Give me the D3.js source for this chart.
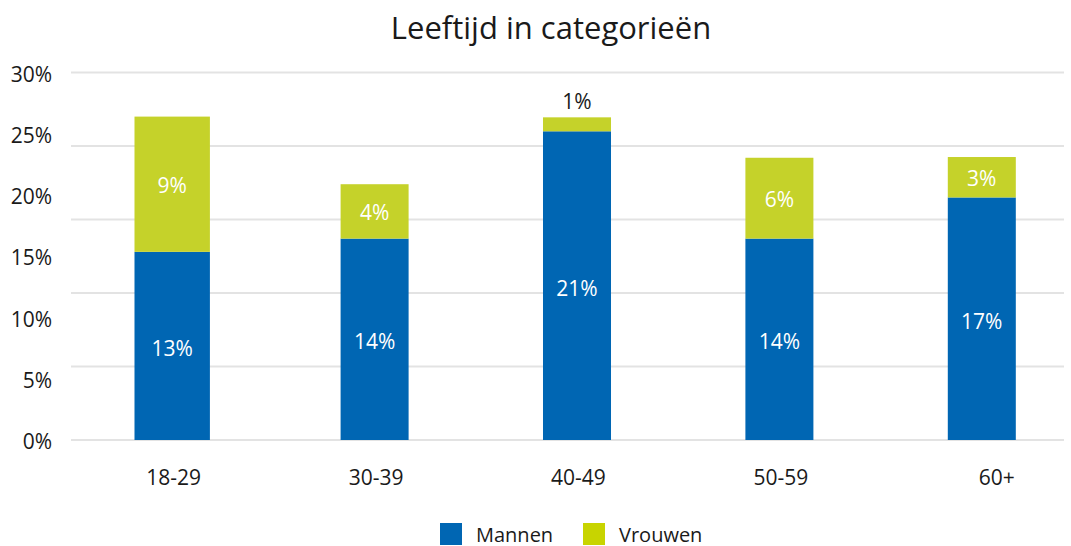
<!DOCTYPE html>
<html>
<head>
<meta charset="utf-8">
<script src="https://cdn.jsdelivr.net/npm/d3@7"></script>
<style>
  body { margin: 0; background: #fff; }
  svg { display: block; font-family: "Open Sans", sans-serif; }
</style>
</head>
<body>
<svg id="chart" width="1071" height="546"></svg>
<script>
const categories = ['18-29', '30-39', '40-49', '50-59', '60+'];
const mannen = [12.8, 13.7, 21.0, 13.7, 16.5];
const vrouwen = [9.2, 3.7, 0.95, 5.5, 2.75];
const mannenLabels = ['13%', '14%', '21%', '14%', '17%'];
const vrouwenLabels = ['9%', '4%', '1%', '6%', '3%'];
const tickLabels = ['0%', '5%', '10%', '15%', '20%', '25%', '30%'];
const seriesNames = ['Mannen', 'Vrouwen'];

const BLUE = '#0066b3';
const GREEN = '#c5d22a';
const TEXT = '#1a1a1a';

const svg = d3.select('#chart');

const x = d3.scaleBand()
  .domain(categories)
  .range([71, 1083])
  .paddingInner(0.664)
  .paddingOuter(0.332);

const y = d3.scaleLinear()
  .domain([0, 25])
  .range([440, 72.5]);

// tick labels are spread evenly over the plot height, independent of the gridlines
const yLabel = d3.scalePoint()
  .domain(tickLabels)
  .range([440, 72.5]);

// gridlines
svg.append('g')
  .selectAll('line')
  .data(y.ticks(5))
  .join('line')
  .attr('x1', 71)
  .attr('x2', 1064)
  .attr('y1', d => y(d))
  .attr('y2', d => y(d))
  .attr('stroke', '#e3e3e3')
  .attr('stroke-width', 2);

// y labels
svg.append('g')
  .selectAll('text')
  .data(tickLabels)
  .join('text')
  .attr('x', 52)
  .attr('y', d => yLabel(d) + 1)
  .attr('text-anchor', 'end')
  .attr('dominant-baseline', 'central')
  .attr('fill', TEXT)
  .style('font-size', '21px')
  .text(d => d);

// title
svg.append('text')
  .attr('x', 551)
  .attr('y', 39)
  .attr('text-anchor', 'middle')
  .attr('fill', TEXT)
  .style('font-size', '31px')
  .text('Leeftijd in categorieën');

const rows = categories.map((c, i) => ({
  cat: c,
  m: mannen[i],
  v: vrouwen[i],
  ml: mannenLabels[i],
  vl: vrouwenLabels[i],
}));

// first bar is drawn a bit wider in the original
const widen = (i) => (i === 0 ? 3.7 : 0);

const bars = svg.append('g')
  .selectAll('g')
  .data(rows)
  .join('g');

bars.append('rect')
  .attr('x', (d, i) => x(d.cat) - widen(i))
  .attr('width', (d, i) => x.bandwidth() + 2 * widen(i))
  .attr('y', d => y(d.m))
  .attr('height', d => y(0) - y(d.m))
  .attr('fill', BLUE);

bars.append('rect')
  .attr('x', (d, i) => x(d.cat) - widen(i))
  .attr('width', (d, i) => x.bandwidth() + 2 * widen(i))
  .attr('y', d => y(d.m + d.v))
  .attr('height', d => y(d.m) - y(d.m + d.v))
  .attr('fill', GREEN);

bars.append('text')
  .attr('x', d => x(d.cat) + x.bandwidth() / 2)
  .attr('y', d => (y(0) + y(d.m)) / 2 + 2)
  .attr('text-anchor', 'middle')
  .attr('dominant-baseline', 'central')
  .attr('fill', '#fff')
  .style('font-size', '21px')
  .text(d => d.ml);

// small segments get their label above the bar
bars.append('text')
  .attr('x', d => x(d.cat) + x.bandwidth() / 2)
  .attr('y', d => {
    const h = y(d.m) - y(d.m + d.v);
    return h < 25 ? y(d.m + d.v) - 16 : (y(d.m) + y(d.m + d.v)) / 2 + 1;
  })
  .attr('text-anchor', 'middle')
  .attr('dominant-baseline', 'central')
  .attr('fill', d => (y(d.m) - y(d.m + d.v) < 25 ? TEXT : '#fff'))
  .style('font-size', '21px')
  .text(d => d.vl);

// x labels (the last one sits a bit to the right in the original)
svg.append('g')
  .selectAll('text')
  .data(categories)
  .join('text')
  .attr('x', (d, i) => x(d) + x.bandwidth() / 2 + (i === categories.length - 1 ? 15 : 1.5))
  .attr('y', 477)
  .attr('text-anchor', 'middle')
  .attr('dominant-baseline', 'central')
  .attr('fill', TEXT)
  .style('font-size', '21px')
  .text(d => d);

// legend
const legendX = [440, 583];
const legend = svg.append('g')
  .selectAll('g')
  .data(seriesNames)
  .join('g')
  .attr('transform', (d, i) => `translate(${legendX[i]}, 523)`);

legend.append('rect')
  .attr('width', 22)
  .attr('height', 22)
  .attr('fill', (d, i) => (i === 0 ? BLUE : '#c8d400'));

legend.append('text')
  .attr('x', 36)
  .attr('y', 11)
  .attr('dominant-baseline', 'central')
  .attr('fill', TEXT)
  .style('font-size', '20px')
  .text(d => d);
</script>
</body>
</html>
